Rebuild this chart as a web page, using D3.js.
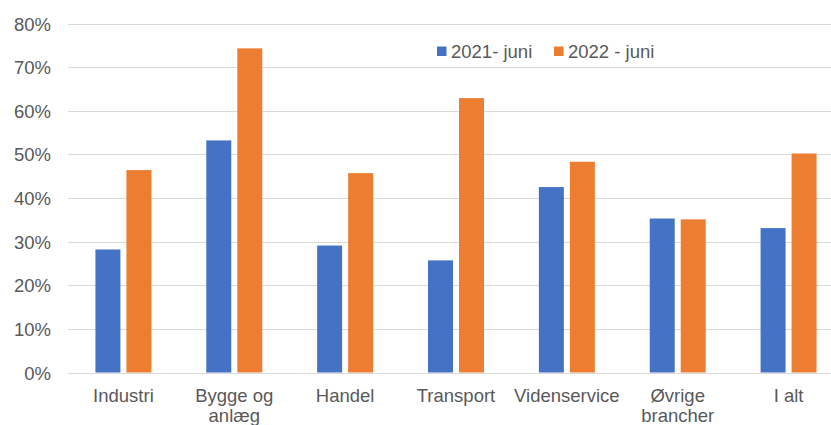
<!DOCTYPE html>
<html>
<head>
<meta charset="utf-8">
<script src="https://cdn.jsdelivr.net/npm/d3@7"></script>
<style>
  body { margin: 0; background: #fff; }
  text { font-family: "Liberation Sans", Arial, sans-serif; fill: #595959; }
</style>
</head>
<body>
<div id="chart"></div>
<script>
// data
const categories = ["Industri", "Bygge og\nanlæg", "Handel", "Transport", "Videnservice", "Øvrige\nbrancher", "I alt"];
const seriesNames = ["2021- juni", "2022 - juni"];
const values2021 = [28.2, 53.2, 29.1, 25.7, 42.5, 35.3, 33.1];
const values2022 = [46.4, 74.3, 45.7, 62.9, 48.3, 35.1, 50.2];
const yTicks = [0, 10, 20, 30, 40, 50, 60, 70, 80];
const colors = ["#4472c4", "#ed7d31"];

const width = 831, height = 425;
const margin = {top: 23.5, left: 68, bottom: 52.5};

const svg = d3.select("#chart")
  .append("svg")
    .attr("width", width)
    .attr("height", height);

// scales (plot runs past the right edge like the original)
const x0 = d3.scaleBand()
    .domain(categories)
    .range([margin.left, margin.left + 776])
    .paddingInner(0.495)
    .paddingOuter(0.2475);

const x1 = d3.scaleBand()
    .domain(seriesNames)
    .range([0, x0.bandwidth()])
    .paddingInner(0.194);

const y = d3.scaleLinear()
    .domain([0, 80])
    .range([height - margin.bottom, margin.top]);

// gridlines
svg.append("g")
  .selectAll("line")
  .data(yTicks)
  .join("line")
    .attr("x1", margin.left)
    .attr("x2", width)
    .attr("y1", d => Math.round(y(d)) + 0.5)
    .attr("y2", d => Math.round(y(d)) + 0.5)
    .attr("stroke", "#d9d9d9")
    .attr("stroke-width", 1);

// y labels
svg.append("g")
  .selectAll("text")
  .data(yTicks)
  .join("text")
    .attr("x", 51)
    .attr("y", d => y(d))
    .attr("dy", "0.38em")
    .attr("text-anchor", "end")
    .style("font-size", "18.5px")
    .text(d => d + "%");

// bars
const table = categories.map((c, i) => ({cat: c, vals: [values2021[i], values2022[i]]}));

const groups = svg.append("g")
  .selectAll("g")
  .data(table)
  .join("g")
    .attr("transform", d => `translate(${x0(d.cat)},0)`);

groups.selectAll("rect")
  .data(d => d.vals.map((v, j) => ({name: seriesNames[j], v: v, j: j})))
  .join("rect")
    .attr("x", d => x1(d.name))
    .attr("width", x1.bandwidth())
    .attr("y", d => y(d.v))
    .attr("height", d => y(0) - y(d.v))
    .attr("fill", d => colors[d.j]);

// category labels
const labels = svg.append("g")
  .selectAll("text")
  .data(categories)
  .join("text")
    .attr("text-anchor", "middle")
    .attr("y", 401.5)
    .style("font-size", "18.5px");

labels.selectAll("tspan")
  .data(d => d.split("\n").map(s => ({s: s, c: d})))
  .join("tspan")
    .attr("x", d => x0(d.c) + x0.bandwidth() / 2)
    .attr("dy", (d, i) => i === 0 ? 0 : 20.5)
    .text(d => d.s);

// legend
const legendX = [437, 554];
const legend = svg.append("g")
  .selectAll("g")
  .data(seriesNames)
  .join("g")
    .attr("transform", (d, i) => `translate(${legendX[i]},0)`);

legend.append("rect")
    .attr("x", 0)
    .attr("y", 46.5)
    .attr("width", 9.5)
    .attr("height", 9.5)
    .attr("fill", (d, i) => colors[i]);

legend.append("text")
    .attr("x", 14)
    .attr("y", 57.5)
    .style("font-size", "18.5px")
    .text(d => d);
</script>
</body>
</html>
